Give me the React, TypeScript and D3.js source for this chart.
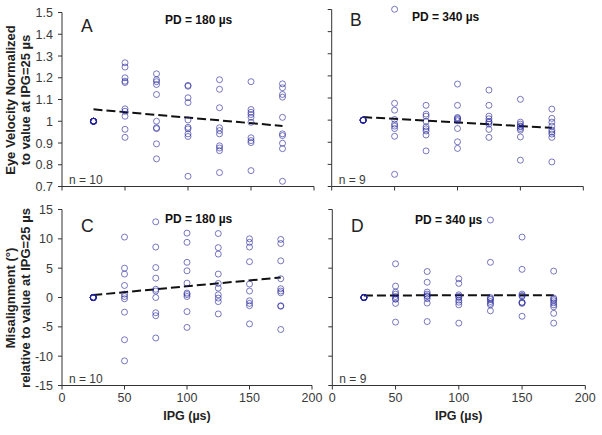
import React from "react";
import * as d3 from "d3";

const ipg = [25, 50, 75, 100, 125, 150, 175];
const xTicks = [0, 50, 100, 150, 200];
const velTicks = [0.7, 0.8, 0.9, 1.0, 1.1, 1.2, 1.3, 1.4, 1.5];
const misTicks = [-15, -10, -5, 0, 5, 10, 15];

// Panel A: eye velocity, PD = 180 µs (n = 10)
const velocity180: number[][] = [
  [1, 1, 1, 1, 1, 1, 1, 1, 1, 1],
  [1.269, 1.249, 1.2, 1.184, 1.178, 1.057, 1.046, 1.023, 0.963, 0.926],
  [1.218, 1.191, 1.182, 1.169, 1.123, 1.0, 0.97, 0.966, 0.896, 0.827],
  [1.165, 1.161, 1.108, 1.086, 1.006, 0.972, 0.965, 0.942, 0.93, 0.747],
  [1.191, 1.147, 1.062, 0.97, 0.957, 0.942, 0.887, 0.877, 0.865, 0.764],
  [1.182, 1.054, 1.041, 1.031, 1.018, 0.995, 0.924, 0.911, 0.902, 0.773],
  [1.172, 1.154, 1.123, 1.111, 1.018, 0.942, 0.934, 0.899, 0.874, 0.724],
];

// Panel B: eye velocity, PD = 340 µs (n = 9)
const velocity340: number[][] = [
  [1, 1, 1, 1, 1, 1, 1, 1, 1],
  [1.501, 1.076, 1.045, 1.003, 0.982, 0.973, 0.962, 0.927, 0.755],
  [1.067, 1.027, 1.018, 0.994, 0.97, 0.961, 0.951, 0.933, 0.861],
  [1.163, 1.067, 1.012, 1.008, 1.003, 0.997, 0.962, 0.902, 0.872],
  [1.136, 1.067, 1.018, 1.006, 0.994, 0.99, 0.982, 0.958, 0.922],
  [1.094, 0.991, 0.982, 0.973, 0.97, 0.962, 0.955, 0.924, 0.819],
  [1.05, 1.008, 0.991, 0.973, 0.955, 0.946, 0.937, 0.922, 0.811],
];

// Panel C: misalignment, PD = 180 µs (n = 10)
const misalign180: number[][] = [
  [0, 0, 0, 0, 0, 0, 0, 0, 0, 0],
  [10.3, 5.0, 4.0, 2.05, 0.57, 0.17, -0.22, -2.5, -7.2, -10.8],
  [12.9, 8.6, 5.1, 3.3, 1.4, 1.1, 0, -2.6, -3.1, -6.9],
  [10.97, 9.4, 6.0, 4.55, 2.45, 0.75, 0.51, 0.17, -2.4, -5.1],
  [10.9, 8.5, 7.4, 4.0, 2.4, 1.6, 0.46, -0.1, -0.7, -2.8],
  [10.0, 9.4, 8.6, 6.1, 2.3, 1.1, -0.56, -1.0, -1.4, -4.5],
  [9.9, 9.2, 6.25, 3.2, 1.5, 1.1, 0.8, -1.4, -1.5, -5.45],
];

// Panel D: misalignment, PD = 340 µs (n = 9)
const misalign340: number[][] = [
  [0, 0, 0, 0, 0, 0, 0, 0, 0],
  [5.74, 1.94, 0.92, 0.58, 0.17, -0.22, -0.3, -1.0, -4.2],
  [4.43, 2.6, 0.92, 0.58, 0.3, 0.17, -0.2, -0.95, -4.1],
  [3.2, 2.4, 0.46, 0.2, 0, -0.45, -0.8, -1.25, -4.37],
  [13.2, 6.0, 0, -0.2, -0.34, -0.68, -1.0, -1.25, -2.27],
  [10.3, 4.8, 0.58, 0.34, 0.2, -0.8, -0.9, -1.0, -3.2],
  [4.5, -0.1, -0.3, -0.56, -0.9, -1.25, -1.58, -2.7, -4.37],
];

const FONT = "'Liberation Sans', Arial, Helvetica, sans-serif";
const POINT = "#22229a";
const AXIS = "#333";

type PanelProps = {
  data: number[][];
  letter: string;
  pd: string;
  n: string;
  xr: [number, number];
  yr: [number, number];
  yDomain: [number, number];
  yTicks: number[];
  yFmt: ((v: number) => string) | null;
  showX: boolean;
  letterPos: [number, number];
  pdPos: [number, number];
};

function regression(data: number[][]) {
  const pts: [number, number][] = [];
  data.forEach((g, i) => g.forEach((v) => pts.push([ipg[i], v])));
  const mx = d3.mean(pts, (p) => p[0]) as number;
  const my = d3.mean(pts, (p) => p[1]) as number;
  const sxy = d3.sum(pts, (p) => (p[0] - mx) * (p[1] - my));
  const sxx = d3.sum(pts, (p) => (p[0] - mx) * (p[0] - mx));
  const b = sxy / sxx;
  const a = my - b * mx;
  return (x: number) => a + b * x;
}

function Panel(p: PanelProps) {
  const x = d3.scaleLinear().domain([0, 200]).range(p.xr);
  const y = d3.scaleLinear().domain(p.yDomain).range(p.yr);
  const fit = regression(p.data);
  const x0 = p.xr[0];
  const yb = p.yr[0];
  const lineGen = d3
    .line<number>()
    .x((d) => x(d))
    .y((d) => y(fit(d)));
  return (
    <g>
      <line x1={x0} x2={x0} y1={p.yr[1]} y2={yb} stroke={AXIS} strokeWidth={1} />
      <line x1={x0} x2={x(200)} y1={yb} y2={yb} stroke={AXIS} strokeWidth={1} />
      {p.yTicks.map((t) => (
        <g key={"y" + t}>
          <line x1={x0 - 4} x2={x0} y1={y(t)} y2={y(t)} stroke={AXIS} />
          {p.yFmt && (
            <text
              x={x0 - 9}
              y={y(t) + 4.5}
              textAnchor="end"
              fontSize={12.5}
              fill="#3a3a3a"
              fontFamily={FONT}
            >
              {p.yFmt(t)}
            </text>
          )}
        </g>
      ))}
      {xTicks.map((t) => (
        <g key={"x" + t}>
          <line x1={x(t)} x2={x(t)} y1={yb} y2={yb + 4} stroke={AXIS} />
          {p.showX && (
            <text
              x={x(t)}
              y={402}
              textAnchor="middle"
              fontSize={12.5}
              fill="#3a3a3a"
              fontFamily={FONT}
            >
              {String(t)}
            </text>
          )}
        </g>
      ))}
      {p.showX && (
        <text
          x={x(100)}
          y={420}
          textAnchor="middle"
          fontSize={12.5}
          fontWeight="bold"
          fill="#222"
          fontFamily={FONT}
        >
          IPG (µs)
        </text>
      )}
      <path
        d={lineGen([ipg[0], ipg[ipg.length - 1]]) || ""}
        fill="none"
        stroke="#111"
        strokeWidth={2}
        strokeDasharray="9,4"
      />
      {p.data.map((g, i) =>
        g.map((v, j) => (
          <circle
            key={i + "-" + j}
            cx={x(ipg[i])}
            cy={y(v)}
            r={3}
            fill="none"
            stroke={POINT}
            strokeOpacity={0.6}
            strokeWidth={1}
          />
        ))
      )}
      <text
        x={p.letterPos[0]}
        y={p.letterPos[1]}
        fontSize={17.5}
        fill="#222"
        fontFamily={FONT}
      >
        {p.letter}
      </text>
      <text
        x={p.pdPos[0]}
        y={p.pdPos[1]}
        fontSize={12}
        fontWeight="bold"
        fill="#111"
        fontFamily={FONT}
      >
        {p.pd}
      </text>
      <text x={x0 + 7} y={yb - 3} fontSize={12} fill="#3a3a3a" fontFamily={FONT}>
        {p.n}
      </text>
    </g>
  );
}

const velFmt = (v: number) => (Math.abs(v - 1) < 1e-9 ? "1" : v.toFixed(1));
const misFmt = (v: number) => String(v);

export default function App() {
  return (
    <svg
      width={602}
      height={435}
      style={{ position: "fixed", left: 0, top: 0, background: "#fff" }}
    >
      <rect x={0} y={0} width={602} height={435} fill="#fff" />
      <Panel
        data={velocity180}
        letter="A"
        pd="PD = 180 µs"
        n="n = 10"
        xr={[62, 314]}
        yr={[186.5, 12.5]}
        yDomain={[0.7, 1.5]}
        yTicks={velTicks}
        yFmt={velFmt}
        showX={false}
        letterPos={[81, 31.5]}
        pdPos={[165, 23.5]}
      />
      <Panel
        data={velocity340}
        letter="B"
        pd="PD = 340 µs"
        n="n = 9"
        xr={[331.7, 583.3]}
        yr={[186.5, 9.5]}
        yDomain={[0.7, 1.5]}
        yTicks={velTicks}
        yFmt={null}
        showX={false}
        letterPos={[350, 25.5]}
        pdPos={[412, 21]}
      />
      <Panel
        data={misalign180}
        letter="C"
        pd="PD = 180 µs"
        n="n = 10"
        xr={[62, 312]}
        yr={[385.5, 209.5]}
        yDomain={[-15, 15]}
        yTicks={misTicks}
        yFmt={misFmt}
        showX={true}
        letterPos={[81, 231.5]}
        pdPos={[165, 223]}
      />
      <Panel
        data={misalign340}
        letter="D"
        pd="PD = 340 µs"
        n="n = 9"
        xr={[332.3, 585.3]}
        yr={[385.5, 209.5]}
        yDomain={[-15, 15]}
        yTicks={misTicks}
        yFmt={null}
        showX={true}
        letterPos={[351, 232]}
        pdPos={[415, 224]}
      />
      <g fontFamily={FONT} fontWeight="bold" fontSize={13} fill="#222" textAnchor="middle">
        <text transform="translate(15,100) rotate(-90)">Eye Velocity Normalized</text>
        <text transform="translate(29.5,100) rotate(-90)">to value at IPG=25 µs</text>
        <text transform="translate(15,298) rotate(-90)">Misalignment (°)</text>
        <text transform="translate(29.5,298) rotate(-90)">relative to value at IPG=25 µs</text>
      </g>
    </svg>
  );
}
